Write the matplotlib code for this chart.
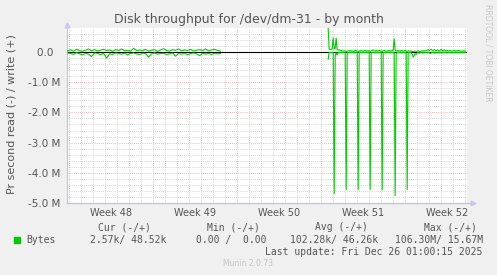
import numpy as np
import matplotlib
matplotlib.use("Agg")
import matplotlib.pyplot as plt
from matplotlib.transforms import blended_transform_factory

# data (values in M bytes/s, time in days from Mon Nov 24 2025)
left_start = -0.12
left_step = 0.25
right_start = 21.6
right_step = 1 / 12   # 2 hour samples

write_left = [0.04, 0.07, 0.03, 0.09, 0.05, 0.02, 0.06, 0.10, 0.04, 0.08, 0.03, 0.06, 0.09,
              0.05, 0.07, 0.02, 0.08, 0.05, 0.10, 0.04, 0.06, 0.03, 0.12, 0.05, 0.07, 0.04,
              0.09, 0.03, 0.06, 0.08, 0.02, 0.07, 0.11, 0.05, 0.03, 0.08, 0.06, 0.10, 0.04,
              0.07, 0.05, 0.09, 0.03, 0.06, 0.08, 0.05, 0.10, 0.04, 0.07, 0.09, 0.05, 0.03]
read_left = [0.03, 0.05, 0.08, 0.02, 0.06, 0.10, 0.04, 0.07, 0.15, 0.03, 0.05, 0.09, 0.04,
             0.20, 0.06, 0.08, 0.03, 0.05, 0.07, 0.04, 0.09, 0.05, 0.03, 0.06, 0.08, 0.04,
             0.05, 0.17, 0.06, 0.03, 0.07, 0.05, 0.04, 0.08, 0.06, 0.03, 0.14, 0.05, 0.07,
             0.04, 0.09, 0.05, 0.03, 0.06, 0.12, 0.04, 0.07, 0.05, 0.08, 0.04, 0.06, 0.05]

write_right = [
    0.78, 0.09, 0.09, 0.09, 0.09, 0.47, 0.10, 0.12, 0.46, 0.07, 0.07, 0.07,
    0.06, 0.05, 0.04, 0.03, 0.04, 0.03, 0.02, 0.03, 0.04, 0.03, 0.05, 0.03,
    0.04, 0.03, 0.02, 0.06, 0.04, 0.03, 0.02, 0.04, 0.03, 0.05, 0.04, 0.03,
    0.04, 0.06, 0.03, 0.04, 0.03, 0.05, 0.02, 0.04, 0.06, 0.07, 0.04, 0.03,
    0.05, 0.04, 0.03, 0.06, 0.04, 0.03, 0.02, 0.04, 0.05, 0.03, 0.04, 0.03,
    0.04, 0.05, 0.03, 0.04, 0.06, 0.05, 0.44, 0.06, 0.04, 0.03, 0.05, 0.04,
    0.03, 0.04, 0.05, 0.03, 0.04, 0.06, 0.03, 0.02, 0.04, 0.03, 0.04, 0.03,
    0.02, 0.01, 0.02, 0.03, 0.02, 0.03, 0.04, 0.03, 0.02, 0.03, 0.04, 0.03,
    0.04, 0.03, 0.05, 0.06, 0.08, 0.05, 0.07, 0.09, 0.06, 0.05, 0.08, 0.06,
    0.04, 0.07, 0.05, 0.03, 0.06, 0.08, 0.05, 0.04, 0.07, 0.05, 0.03, 0.05,
    0.04, 0.03, 0.05, 0.04, 0.03, 0.04, 0.05, 0.03, 0.04, 0.03, 0.05, 0.04,
    0.03, 0.04, 0.03, 0.04, 0.03, 0.04]
read_right = [
    0.24, 0.02, 0.01, 0.02, 0.01, 0.02, 4.70, 0.13, 0.02, 0.10, 0.02, 0.01,
    0.02, 0.01, 0.02, 0.01, 0.02, 0.01, 4.55, 0.02, 0.01, 0.02, 0.01, 0.02,
    0.01, 0.02, 0.01, 0.02, 0.01, 0.02, 4.55, 0.01, 0.02, 0.01, 0.02, 0.01,
    0.02, 0.01, 0.02, 0.01, 0.02, 0.01, 4.55, 0.02, 0.01, 0.02, 0.01, 0.02,
    0.01, 0.02, 0.01, 0.02, 0.01, 0.02, 4.55, 0.01, 0.02, 0.01, 0.02, 0.01,
    0.02, 0.01, 0.02, 0.01, 0.02, 0.01, 0.02, 4.75, 0.05, 0.02, 0.01, 0.02,
    0.01, 0.02, 0.01, 0.02, 0.01, 0.02, 0.01, 4.55, 0.02, 0.01, 0.02, 0.03,
    0.06, 0.17, 0.12, 0.05, 0.08, 0.03, 0.02, 0.04, 0.02, 0.01, 0.02, 0.03,
    0.02, 0.01, 0.02, 0.03, 0.01, 0.02, 0.05, 0.03, 0.02, 0.01, 0.02, 0.03,
    0.02, 0.01, 0.03, 0.02, 0.01, 0.02, 0.03, 0.01, 0.02, 0.01, 0.02, 0.03,
    0.01, 0.02, 0.01, 0.02, 0.03, 0.01, 0.02, 0.01, 0.02, 0.01, 0.02, 0.01,
    0.02, 0.01, 0.02, 0.01, 0.02, 0.01]

weeks = ["Week 48", "Week 49", "Week 50", "Week 51", "Week 52"]
ytick_labels = ["-5.0 M", "-4.0 M", "-3.0 M", "-2.0 M", "-1.0 M", "0.0  "]

col_heads = ["Cur (-/+)", "Min (-/+)", "Avg (-/+)", "Max (-/+)"]
col_vals = ["2.57k/ 48.52k", "0.00 /  0.00", "102.28k/ 46.26k", "106.30M/ 15.67M"]

green = '#00cc00'
txt = '#555555'
W, H = 497, 275

fig = plt.figure(figsize=(W / 100, H / 100), dpi=100, facecolor='#f0f0f0')
ax = fig.add_axes([67 / W, 1 - 203 / H, 400 / W, 175 / H])
ax.set_facecolor('white')

xmin, xmax = -0.167, 33.17
ymin, ymax = -5.0e6, 0.795e6
ax.set_xlim(xmin, xmax)
ax.set_ylim(ymin, ymax)

# grid
dots = (0, (1, 1.5))
for d in range(0, 34):
    if d % 7 == 0:
        continue
    ax.axvline(d, color='#c8c8c8', lw=0.6, ls=dots, zorder=1)
for v in np.arange(-4.8, 0.8, 0.2):
    if abs(v - round(v)) < 1e-6:
        continue
    ax.axhline(v * 1e6, color='#c8c8c8', lw=0.6, ls=dots, zorder=1)
for d in range(0, 33, 7):
    ax.axvline(d, color='#e8a0a0', lw=0.6, ls=dots, zorder=1)
for v in range(-4, 1):
    ax.axhline(v * 1e6, color='#e8a0a0', lw=0.6, ls=dots, zorder=1)

ax.axhline(0, color='black', lw=0.8, zorder=2)

t_left = left_start + left_step * np.arange(len(write_left))
t_right = right_start + right_step * np.arange(len(write_right))
for t, w, r in [(t_left, write_left, read_left), (t_right, write_right, read_right)]:
    ax.plot(t, np.array(w) * 1e6, color=green, lw=0.8, zorder=3)
    ax.plot(t, -np.array(r) * 1e6, color=green, lw=0.8, zorder=3)

# axes
for s in ['top', 'right']:
    ax.spines[s].set_visible(False)
for s in ['left', 'bottom']:
    ax.spines[s].set_color('#c0c0e8')
    ax.spines[s].set_linewidth(0.8)
ax.plot([xmin], [ymax + 0.1e6], marker='^', ms=3.5, color='#c8c8f0', clip_on=False, zorder=4)
ax.plot([xmin, xmax + 0.4], [ymin, ymin], color='#c0c0e8', lw=0.8, clip_on=False, zorder=4)
ax.plot([xmax + 0.5], [ymin], marker='>', ms=3.5, color='#c8c8f0', clip_on=False, zorder=4)

ax.set_yticks(np.arange(-5, 1) * 1e6)
ax.set_yticklabels(ytick_labels)
ax.set_xticks([])
ax.tick_params(axis='y', length=0, pad=5, labelsize=7.5, labelcolor=txt)

trans = blended_transform_factory(ax.transData, ax.transAxes)
for i, w in enumerate(weeks):
    ax.text(7 * i + 3.5, -10 / 175, w, transform=trans, ha='center', va='center',
            fontsize=7, color=txt)

fig.text(0.5, 1 - 19 / H, "Disk throughput for /dev/dm-31 - by month",
         ha='center', va='center', fontsize=9, color=txt)
fig.text(12 / W, 1 - 114 / H, "Pr second read (-) / write (+)", rotation=90,
         ha='center', va='center', fontsize=8, color=txt)
fig.text(488 / W, 1 - 53 / H, "RRDTOOL / TOBI OETIKER", rotation=270,
         ha='center', va='center', fontsize=5.5, color='#c8c8c8')

# legend
mono = 'DejaVu Sans Mono'
fig.patches.append(plt.Rectangle((14 / W, 1 - 243 / H), 6 / W, 6 / H, color=green,
                                 transform=fig.transFigure, figure=fig))
fig.text(26.5 / W, 1 - 240 / H, "Bytes", ha='left', va='center', fontsize=7,
         family=mono, color=txt)
for x, h in zip([150.7, 260, 368.3, 476.7], col_heads):
    fig.text(x / W, 1 - 227.5 / H, h, ha='right', va='center', fontsize=7, family=mono, color=txt)
for x, v in zip([166.7, 266.7, 377.7, 482.7], col_vals):
    fig.text(x / W, 1 - 240 / H, v, ha='right', va='center', fontsize=7, family=mono, color=txt)
fig.text(482.7 / W, 1 - 252 / H, "Last update: Fri Dec 26 01:00:15 2025", ha='right',
         va='center', fontsize=7, family=mono, color=txt)
fig.text(248 / W, 1 - 263.5 / H, "Munin 2.0.73", ha='center', va='center', fontsize=5.5,
         color='#c4c4c4')

fig.savefig("out.png", dpi=100, facecolor=fig.get_facecolor())
